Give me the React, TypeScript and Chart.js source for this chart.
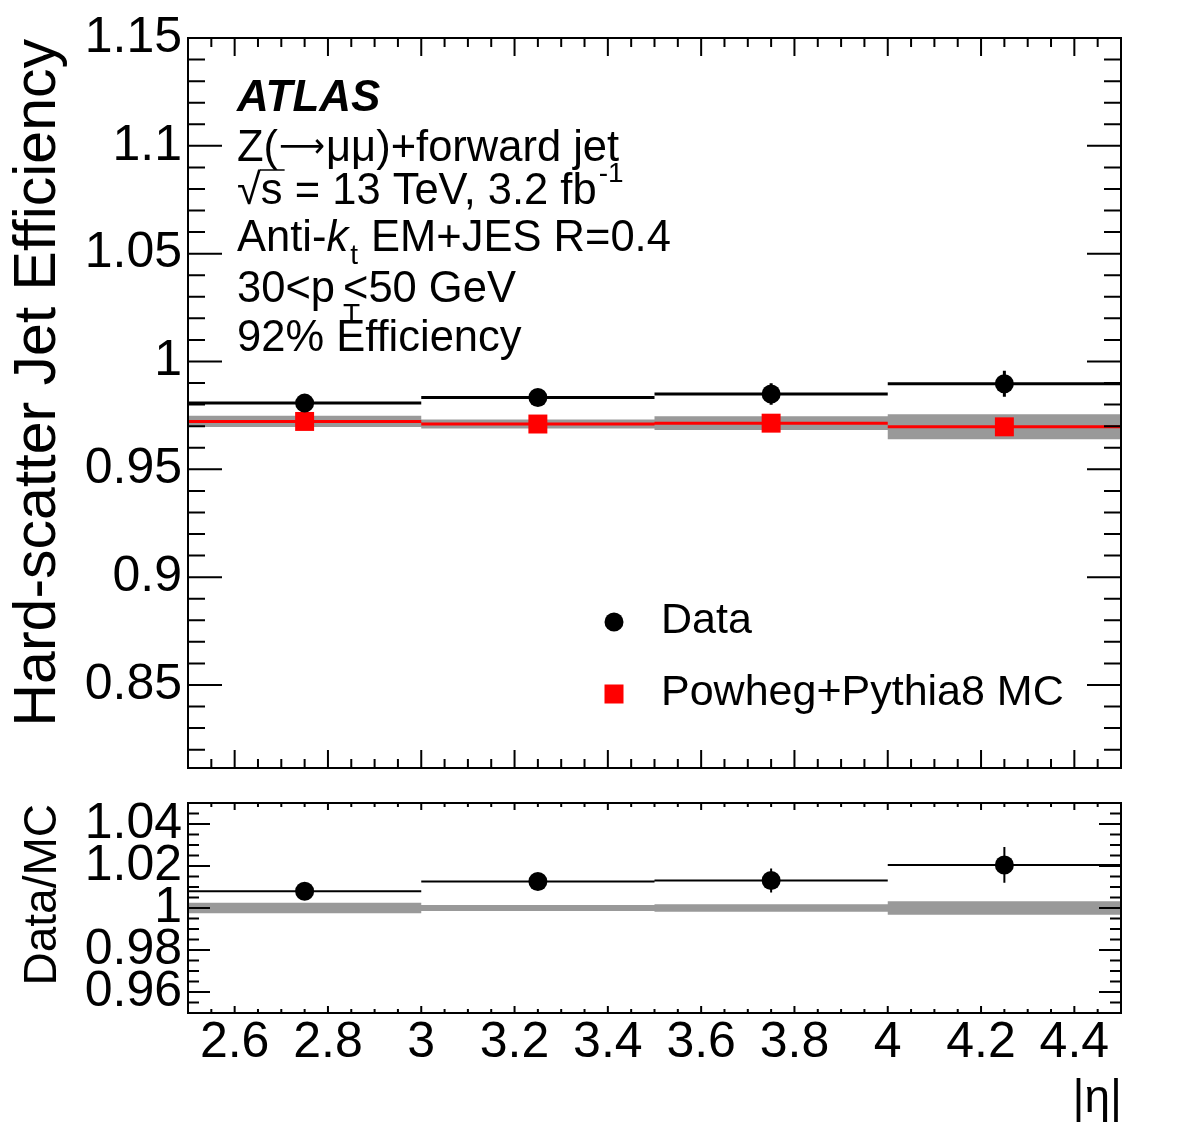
import React, { useEffect, useRef } from "react";
import { Chart, registerables } from "chart.js";

Chart.register(...registerables);

const FONT = "'Liberation Sans', Helvetica, Arial, sans-serif";

// ---- data ----
const binEdges = [2.5, 3.0, 3.5, 4.0, 4.5];
const binCenters = [2.75, 3.25, 3.75, 4.25];
const dataEff = [0.9807, 0.9833, 0.9849, 0.9897];
const dataEffErr = [0.0018, 0.0018, 0.005, 0.006];
const mcEff = [0.9722, 0.971, 0.9714, 0.9697];
const mcEffErr = [0.0026, 0.0021, 0.0032, 0.0058];
const ratioVal = [1.008, 1.0126, 1.0131, 1.0205];
const ratioErr = [0.003, 0.003, 0.0057, 0.0085];
const mcRatioErr = [0.0025, 0.0014, 0.0018, 0.0032];

// ---- ticks ----
const xTickValues = [2.6, 2.8, 3, 3.2, 3.4, 3.6, 3.8, 4, 4.2, 4.4];
const xMinorStep = 0.05;
const topYTickValues = [0.85, 0.9, 0.95, 1, 1.05, 1.1, 1.15];
const topYMinorStep = 0.01;
const ratioYTickValues = [0.96, 0.98, 1, 1.02, 1.04];
const ratioYMinorStep = 0.005;

const X_MIN = 2.5, X_MAX = 4.5;
const TOP_Y_MIN = 0.8115, TOP_Y_MAX = 1.15;
const RATIO_Y_MIN = 0.95, RATIO_Y_MAX = 1.05;

const W = 1182;
const TOP_H = 808;
const BOT_TOP = 760;
const BOT_H = 1134 - BOT_TOP;

const fmt = (v: number) => String(Number(Number(v).toFixed(3)));

const hSegments = (vals: number[]) => {
  const pts: any[] = [];
  vals.forEach((v, i) => {
    pts.push({ x: binEdges[i], y: v }, { x: binEdges[i + 1], y: v }, { x: binEdges[i + 1], y: null });
  });
  return pts;
};
const vSegments = (vals: number[], errs: number[]) => {
  const pts: any[] = [];
  vals.forEach((v, i) => {
    pts.push({ x: binCenters[i], y: v - errs[i] }, { x: binCenters[i], y: v + errs[i] }, { x: binCenters[i], y: null });
  });
  return pts;
};
const stepLine = (vals: number[]) => {
  const pts: any[] = vals.map((v, i) => ({ x: binEdges[i], y: v }));
  pts.push({ x: binEdges[vals.length], y: vals[vals.length - 1] });
  return pts;
};
const points = (vals: number[]) => vals.map((v, i) => ({ x: binCenters[i], y: v }));

const lineDs = (data: any[], color: string, width: number) => ({
  data,
  borderColor: color,
  borderWidth: width,
  pointRadius: 0,
  pointHoverRadius: 0,
  pointHitRadius: 0,
  fill: false,
  spanGaps: false,
  tension: 0,
});

function drawFrameTicks(chart: any, cfg: any) {
  const { ctx, chartArea: a } = chart;
  const xs = chart.scales.x, ys = chart.scales.y;
  ctx.save();
  ctx.strokeStyle = "#000";
  ctx.lineWidth = 2;
  ctx.beginPath();
  const nx = Math.round((X_MAX - X_MIN) / xMinorStep);
  for (let i = 1; i < nx; i++) {
    const v = X_MIN + i * xMinorStep;
    const major = xTickValues.some((t) => Math.abs(t - v) < 1e-6);
    const len = major ? cfg.xMajor : cfg.xMinor;
    const px = xs.getPixelForValue(v);
    ctx.moveTo(px, a.bottom);
    ctx.lineTo(px, a.bottom - len);
    ctx.moveTo(px, a.top);
    ctx.lineTo(px, a.top + len);
  }
  const y0 = Math.ceil(cfg.yMin / cfg.yStep - 1e-6);
  const y1 = Math.floor(cfg.yMax / cfg.yStep + 1e-6);
  for (let k = y0; k <= y1; k++) {
    const v = k * cfg.yStep;
    if (v <= cfg.yMin + 1e-9 || v >= cfg.yMax - 1e-9) continue;
    const major = cfg.yMajors.some((t: number) => Math.abs(t - v) < 1e-6);
    const len = major ? cfg.yMajor : cfg.yMinor;
    const py = ys.getPixelForValue(v);
    ctx.moveTo(a.left, py);
    ctx.lineTo(a.left + len, py);
    ctx.moveTo(a.right, py);
    ctx.lineTo(a.right - len, py);
  }
  ctx.stroke();
  ctx.lineWidth = 2;
  ctx.strokeRect(a.left, a.top, a.right - a.left, a.bottom - a.top);
  ctx.restore();
}

function drawRotatedTitle(ctx: any, text: string, x: number, yTop: number, size: number) {
  ctx.save();
  ctx.translate(x, yTop);
  ctx.rotate(-Math.PI / 2);
  ctx.font = `${size}px ${FONT}`;
  ctx.fillStyle = "#000";
  ctx.textAlign = "right";
  ctx.textBaseline = "alphabetic";
  ctx.fillText(text, 0, 0);
  ctx.restore();
}

function txt(ctx: any, s: string, x: number, y: number, size: number, style = "", family = FONT) {
  ctx.font = `${style}${size}px ${family}`;
  ctx.fillText(s, x, y);
  return x + ctx.measureText(s).width;
}

function drawTopDecor(chart: any) {
  const { ctx } = chart;
  drawFrameTicks(chart, {
    xMajor: 18, xMinor: 9, yMajor: 34, yMinor: 17,
    yMin: TOP_Y_MIN, yMax: TOP_Y_MAX, yStep: topYMinorStep, yMajors: topYTickValues,
  });
  drawRotatedTitle(ctx, "Hard-scatter Jet Efficiency", 55, 39, 59);

  ctx.save();
  ctx.fillStyle = "#000";
  ctx.textAlign = "left";
  ctx.textBaseline = "alphabetic";
  const L = 237;
  const S = 43.5;
  txt(ctx, "ATLAS", L, 111, 44, "italic bold ");
  let x = txt(ctx, "Z(", L, 161, S);
  ctx.font = `34px 'DejaVu Sans', sans-serif`;
  const aw = ctx.measureText("\u27f6").width;
  const target = 46;
  ctx.save();
  ctx.translate(x + 1, 157);
  ctx.scale(target / aw, 1);
  ctx.fillText("\u27f6", 0, 0);
  ctx.restore();
  x = x + 1 + target;
  txt(ctx, "\u03bc\u03bc)+forward jet", x + 1, 161, S);
  // sqrt(s) line
  x = txt(ctx, "\u221a", L, 204, S);
  ctx.font = `${S}px ${FONT}`;
  const sw = ctx.measureText("s").width;
  const topY = 204 - ctx.measureText("\u221a").actualBoundingBoxAscent;
  ctx.save();
  ctx.strokeStyle = "#000";
  ctx.lineWidth = 1.5;
  ctx.beginPath();
  ctx.moveTo(x - 1, topY + 1);
  ctx.lineTo(x + sw + 2, topY + 1);
  ctx.stroke();
  ctx.restore();
  x = txt(ctx, "s = 13 TeV, 3.2 fb", x, 204, S);
  txt(ctx, "-1", x + 2, 182, 28);
  // Anti-kt
  x = txt(ctx, "Anti-", L, 251, S);
  x = txt(ctx, "k", x, 251, S, "italic ");
  x = txt(ctx, "t", x + 2, 264, 28);
  txt(ctx, " EM+JES R=0.4", x + 1, 251, S);
  // pT
  x = txt(ctx, "30<p", L, 302, S);
  txt(ctx, "T", x + 8, 323, 28);
  txt(ctx, "<50 GeV", x + 8, 302, S);
  txt(ctx, "92% Efficiency", L, 351, S);

  // legend
  ctx.beginPath();
  ctx.arc(614, 622, 9.5, 0, Math.PI * 2);
  ctx.fill();
  txt(ctx, "Data", 661, 633, 43);
  ctx.fillStyle = "#ff0000";
  ctx.fillRect(604.5, 684.5, 19, 19);
  ctx.fillStyle = "#000";
  txt(ctx, "Powheg+Pythia8 MC", 661, 705, 43);
  ctx.restore();
}

function drawBottomDecor(chart: any) {
  const { ctx } = chart;
  drawFrameTicks(chart, {
    xMajor: 7, xMinor: 4, yMajor: 22, yMinor: 11,
    yMin: RATIO_Y_MIN, yMax: RATIO_Y_MAX, yStep: ratioYMinorStep, yMajors: ratioYTickValues,
  });
  ctx.save();
  ctx.translate(0, -BOT_TOP);
  drawRotatedTitle(ctx, "Data/MC", 56, 804, 46);
  ctx.fillStyle = "#000";
  ctx.textAlign = "right";
  ctx.textBaseline = "alphabetic";
  ctx.font = `46px ${FONT}`;
  ctx.fillText("|\u03b7|", 1122, 1112);
  ctx.restore();
}

const yAxis = (min: number, max: number, ticks: number[]) => ({
  type: "linear",
  min,
  max,
  afterFit: (s: any) => { s.width = 188; },
  afterBuildTicks: (s: any) => { s.ticks = ticks.map((v) => ({ value: v })); },
  grid: { display: false, drawTicks: false },
  border: { display: false },
  ticks: {
    autoSkip: false,
    padding: 6,
    color: "#000",
    font: { family: FONT, size: 50 },
    callback: (v: any) => fmt(v),
  },
});

export default function App() {
  const topRef = useRef<HTMLCanvasElement | null>(null);
  const botRef = useRef<HTMLCanvasElement | null>(null);

  useEffect(() => {
    Chart.defaults.font.family = FONT;
    Chart.defaults.color = "#000";
    const common: any = {
      responsive: false,
      animation: false,
      events: [],
      plugins: { legend: { display: false }, tooltip: { enabled: false }, title: { display: false } },
    };

    const top = new Chart(topRef.current as HTMLCanvasElement, {
      type: "line",
      data: {
        datasets: [
          { ...lineDs(points(dataEff), "#000", 0), showLine: false, pointRadius: 9.5, pointStyle: "circle", pointBackgroundColor: "#000", pointBorderWidth: 0 },
          lineDs(vSegments(dataEff, dataEffErr), "#000", 3),
          lineDs(hSegments(dataEff), "#000", 3),
          { ...lineDs(points(mcEff), "#ff0000", 0), showLine: false, pointRadius: 13.4, pointStyle: "rect", pointBackgroundColor: "#ff0000", pointBorderWidth: 0 },
          lineDs(hSegments(mcEff), "#ff0000", 3),
          { ...lineDs(stepLine(mcEff.map((v, i) => v + mcEffErr[i])), "rgba(0,0,0,0)", 1), stepped: true, fill: 6, backgroundColor: "#999999" },
          { ...lineDs(stepLine(mcEff.map((v, i) => v - mcEffErr[i])), "rgba(0,0,0,0)", 1), stepped: true },
        ],
      } as any,
      options: {
        ...common,
        layout: { padding: { left: 0, top: 38, right: W - 1121, bottom: TOP_H - 768 } },
        scales: {
          x: { type: "linear", min: X_MIN, max: X_MAX, display: false },
          y: yAxis(TOP_Y_MIN, TOP_Y_MAX, topYTickValues),
        },
      } as any,
      plugins: [{ id: "topDecor", afterDraw: drawTopDecor }],
    });

    const bot = new Chart(botRef.current as HTMLCanvasElement, {
      type: "line",
      data: {
        datasets: [
          { ...lineDs(points(ratioVal), "#000", 0), showLine: false, pointRadius: 9.5, pointStyle: "circle", pointBackgroundColor: "#000", pointBorderWidth: 0 },
          lineDs(vSegments(ratioVal, ratioErr), "#000", 2),
          lineDs(hSegments(ratioVal), "#000", 2),
          { ...lineDs(stepLine(mcRatioErr.map((e) => 1 + e)), "rgba(0,0,0,0)", 1), stepped: true, fill: 4, backgroundColor: "#999999" },
          { ...lineDs(stepLine(mcRatioErr.map((e) => 1 - e)), "rgba(0,0,0,0)", 1), stepped: true },
        ],
      } as any,
      options: {
        ...common,
        layout: { padding: { left: 0, top: 803 - BOT_TOP, right: W - 1121, bottom: 0 } },
        scales: {
          x: {
            type: "linear",
            min: X_MIN,
            max: X_MAX,
            afterFit: (s: any) => { s.height = BOT_H - (1013 - BOT_TOP); },
            afterBuildTicks: (s: any) => { s.ticks = xTickValues.map((v) => ({ value: v })); },
            grid: { display: false, drawTicks: false },
            border: { display: false },
            ticks: {
              autoSkip: false,
              maxRotation: 0,
              padding: 0,
              color: "#000",
              font: { family: FONT, size: 50 },
              callback: (v: any) => fmt(v),
            },
          },
          y: yAxis(RATIO_Y_MIN, RATIO_Y_MAX, ratioYTickValues),
        },
      } as any,
      plugins: [{ id: "botDecor", afterDraw: drawBottomDecor }],
    });

    return () => {
      top.destroy();
      bot.destroy();
    };
  }, []);

  return (
    <div style={{ position: "absolute", left: 0, top: 0, width: W, height: 1134, background: "#fff" }}>
      <canvas ref={topRef} width={W} height={TOP_H} style={{ position: "absolute", left: 0, top: 0 }} />
      <canvas ref={botRef} width={W} height={BOT_H} style={{ position: "absolute", left: 0, top: BOT_TOP }} />
    </div>
  );
}
